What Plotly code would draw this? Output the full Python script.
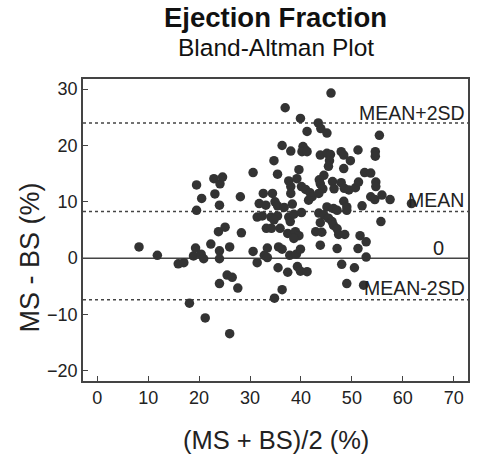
import plotly.graph_objects as go

avg_pct = [
    8.2, 11.8, 15.9, 17.0, 18.1, 18.9, 19.3, 19.5, 19.5, 20.4, 20.9, 20.5, 21.2, 22.3, 22.9, 23.1,
    24.0, 24.1, 24.6, 23.8, 25.1, 24.0, 24.0, 26.0, 25.5, 26.5, 24.0, 27.6, 26.0, 28.1, 28.3,
    30.6, 30.6, 31.4, 32.8, 33.4, 33.4, 35.6, 36.3, 35.5, 34.8, 32.6, 34.4, 31.8, 33.1, 34.9,
    31.4, 32.4, 34.1, 35.4, 34.7, 33.2, 34.2, 35.9, 34.7, 35.4, 35.4, 36.7, 36.3, 36.9, 38.0,
    37.6, 38.0, 39.2, 39.6, 38.0, 38.3, 37.6, 37.9, 38.6, 40.1, 37.4, 38.9, 39.6, 38.6,
    37.8, 39.1, 39.9, 37.4, 39.3, 39.9, 41.2, 36.3,
    39.9, 41.2, 43.4, 43.9, 45.1, 45.9, 55.4, 40.4, 40.9, 40.2, 41.2, 43.8, 45.1, 45.8, 47.9,
    48.4, 51.2, 54.6, 54.6, 49.7, 45.6, 45.4, 48.4, 52.5, 53.7, 44.5, 43.6, 43.8, 44.3, 46.2,
    46.5, 47.9, 48.5, 49.4, 50.7, 51.3, 54.7, 54.7, 40.1, 40.9, 41.8, 42.2, 41.5, 43.5, 53.7,
    54.5, 55.9, 57.5, 61.7, 52.0, 48.4, 49.0, 45.1, 46.4, 47.1, 49.0, 43.5, 44.5, 45.4, 46.1,
    46.4, 47.1, 43.8, 55.7, 42.9, 44.1, 47.4, 48.6, 51.6, 52.8, 51.2, 52.8, 43.8, 47.1, 48.0,
    50.5, 49.0, 52.3,
]
diff_pct = [
    2.0, 0.5, -1.0, -0.8, -8.0, 0.4, 1.8, 13.0, 8.5, 0.7, -0.1, 10.6, -10.6, 2.5, 14.1, 11.4,
    9.4, 13.2, 14.4, 4.7, 5.5, 1.3, -0.1, 2.0, -3.0, -3.4, -4.5, -5.3, -13.4, 10.9, 4.5,
    15.2, 1.2, -0.8, 0.5, 0.1, 1.8, 2.0, 1.6, -1.7, -7.1, 11.5, 11.5, 9.7, 9.4, 10.0,
    7.3, 7.5, 7.3, 7.5, 6.8, 5.3, 5.3, 5.3, 17.3, 14.9, 9.3, 9.0, 20.0, 26.7, 19.0,
    13.7, 12.7, 14.1, 15.7, 11.5, 9.6, 7.3, 6.5, 7.8, 8.1, 4.4, 4.7, 4.0, 3.5,
    0.5, 0.7, 1.6, -2.5, -1.5, -2.3, -2.4, -5.6,
    24.8, 22.5, 24.0, 23.0, 22.2, 29.3, 21.8, 19.8, 19.2, 18.9, 18.9, 18.3, 18.6, 18.4, 18.9,
    18.3, 19.2, 18.9, 18.1, 17.3, 17.3, 16.3, 15.9, 15.2, 15.1, 14.7, 13.9, 13.2, 12.3, 13.6,
    12.3, 13.4, 12.4, 12.1, 12.5, 13.5, 13.5, 12.7, 12.7, 12.2, 11.6, 10.9, 10.3, 11.5, 10.9,
    10.4, 11.2, 10.4, 9.7, 9.3, 10.1, 9.1, 9.1, 8.8, 8.5, 8.5, 8.0, 7.7, 7.1, 6.5,
    5.8, 5.2, 6.3, 6.5, 4.7, 4.6, 4.2, 4.2, 4.0, 2.9, 1.7, 0.2, 2.3, 1.7, -1.1,
    -1.7, -4.5, -4.8,
]

mean_diff = 8.3
upper_loa = 24.0
lower_loa = -7.4

x_ticks = [0, 10, 20, 30, 40, 50, 60, 70]
y_ticks = [-20, -10, 0, 10, 20, 30]
x_range = [-2.8, 72.8]
y_range = [-21.8, 31.8]

FONT = "Arial, Liberation Sans, Helvetica, sans-serif"
INK = "#222222"
LINE = "#444444"

fig = go.Figure()
fig.add_trace(go.Scatter(
    x=avg_pct, y=diff_pct, mode="markers",
    marker=dict(size=9.5, color="#333333", line=dict(width=0)),
    showlegend=False, hoverinfo="x+y",
))

# reference lines
for yv, dash in [(upper_loa, "dot"), (mean_diff, "dot"), (lower_loa, "dot"), (0, "solid")]:
    fig.add_shape(type="line", xref="paper", x0=0, x1=1, yref="y", y0=yv, y1=yv,
                  line=dict(color=LINE, width=1.5, dash=dash), layer="below")

labels = [
    ("MEAN+2SD", 71.9, 25.8),
    ("MEAN", 71.6, 10.3),
    ("MEAN-2SD", 71.9, -5.3),
]
for txt, xv, yv in labels:
    fig.add_annotation(x=xv, y=yv, text=txt, showarrow=False, xanchor="right", yanchor="middle",
                       xshift=4, font=dict(family=FONT, size=19.5, color=INK))
fig.add_annotation(x=67.0, y=1.8, text="0", showarrow=False, xanchor="center", yanchor="middle",
                   font=dict(family=FONT, size=20, color=INK))

# titles
fig.add_annotation(xref="paper", yref="paper", x=0.5, y=1.202, text="<b>Ejection Fraction</b>",
                   showarrow=False, xanchor="center", yanchor="middle",
                   font=dict(family=FONT, size=27.5, color="#111111"))
fig.add_annotation(xref="paper", yref="paper", x=0.5, y=1.103, text="Bland-Altman Plot",
                   showarrow=False, xanchor="center", yanchor="middle",
                   font=dict(family=FONT, size=24.5, color="#111111"))
fig.add_annotation(xref="paper", yref="paper", x=0.5, y=-0.195, text="(MS + BS)/2 (%)",
                   showarrow=False, xanchor="center", yanchor="middle",
                   font=dict(family=FONT, size=25.5, color=INK))
fig.add_annotation(xref="paper", yref="paper", x=-0.137, y=0.41, text="MS - BS (%)",
                   showarrow=False, xanchor="center", yanchor="middle", textangle=-90,
                   font=dict(family=FONT, size=27, color=INK))

axis_common = dict(showgrid=False, zeroline=False, showline=True, linecolor=LINE, linewidth=1.5,
                   mirror=True, ticks="inside", ticklen=5, tickwidth=1, tickcolor=LINE,
                   tickfont=dict(family=FONT, size=18, color=INK))
fig.update_xaxes(range=x_range, tickvals=x_ticks, **axis_common)
fig.update_yaxes(range=y_range, tickvals=y_ticks, **axis_common)

fig.update_layout(
    width=478, height=455,
    margin=dict(l=83, r=8, t=79, b=74),
    paper_bgcolor="white", plot_bgcolor="white",
    font=dict(family=FONT),
)
fig.write_html("out.html", config={"displayModeBar": False},
               post_script="document.body.style.margin='0';document.body.style.overflow='hidden';")
